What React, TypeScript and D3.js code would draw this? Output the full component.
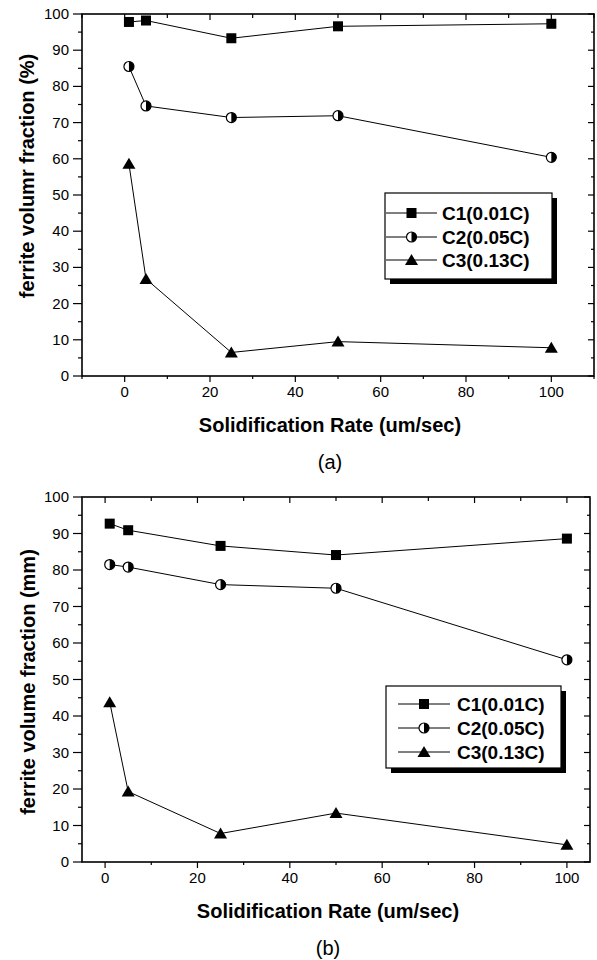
import React from 'react';
import * as d3 from 'd3';

const rates = [1, 5, 25, 50, 100];
const seriesNames = ['C1(0.01C)', 'C2(0.05C)', 'C3(0.13C)'];

// panel (a)
const aC1 = [97.8, 98.2, 93.3, 96.6, 97.3];
const aC2 = [85.5, 74.6, 71.4, 71.9, 60.4];
const aC3 = [58.6, 26.8, 6.5, 9.5, 7.8];

// panel (b)
const bC1 = [92.7, 90.9, 86.6, 84.1, 88.6];
const bC2 = [81.5, 80.8, 76.0, 75.0, 55.4];
const bC3 = [43.8, 19.3, 7.8, 13.4, 4.7];

const xTicks = [0, 20, 40, 60, 80, 100];
const yTicks = [0, 10, 20, 30, 40, 50, 60, 70, 80, 90, 100];

const FONT = '"Liberation Sans", Arial, Helvetica, sans-serif';

function Marker({ kind, x, y }: { kind: number; x: number; y: number }) {
  if (kind === 0) {
    return <rect x={x - 5} y={y - 5} width={10} height={10} fill="#000" />;
  }
  if (kind === 1) {
    const r = 5;
    return (
      <g>
        <circle cx={x} cy={y} r={r} fill="#fff" stroke="#000" strokeWidth={1.2} />
        <path d={`M${x},${y - r} A${r},${r} 0 0 1 ${x},${y + r} Z`} fill="#000" />
      </g>
    );
  }
  const s = 6;
  return <path d={`M${x},${y - s} L${x + s + 0.5},${y + s - 1} L${x - s - 0.5},${y + s - 1} Z`} fill="#000" />;
}

interface PanelProps {
  series: number[][];
  xDomain: [number, number];
  left: number;
  right: number;
  top: number;
  bottom: number;
  yTitle: string;
  yTitleY: number;
  yTitleX: number;
  caption: string;
  legend: { left: number; top: number; right: number; bottom: number; rows: number[]; lineX0: number; lineX1: number; textX: number };
}

function Panel(p: PanelProps) {
  const x = d3.scaleLinear().domain(p.xDomain).range([p.left, p.right]);
  const y = d3.scaleLinear().domain([0, 100]).range([p.bottom, p.top]);
  const line = d3.line<number>().x((_, i) => x(rates[i])).y(d => y(d));

  const xMinor = d3.range(-10, 111, 10).filter(v => v >= p.xDomain[0] && v <= p.xDomain[1]);
  const yMinor = d3.range(0, 101, 5);
  const midX = (p.left + p.right) / 2 - 8;
  const lg = p.legend;

  return (
    <g fontFamily={FONT}>
      {/* frame */}
      <rect x={p.left} y={p.top} width={p.right - p.left} height={p.bottom - p.top} fill="none" stroke="#000" strokeWidth={1.6} />

      {/* bottom ticks (outward) and top ticks (inward) */}
      {xMinor.map(v => {
        const major = v % 20 === 0;
        return (
          <g key={'xt' + v}>
            <line x1={x(v)} x2={x(v)} y1={p.bottom} y2={p.bottom + (major ? 6 : 3)} stroke="#000" strokeWidth={1.2} />
            <line x1={x(v)} x2={x(v)} y1={p.top} y2={p.top + (major ? 6 : 4)} stroke="#000" strokeWidth={1.2} />
          </g>
        );
      })}
      {xTicks.map(v => (
        <text key={'xl' + v} x={x(v)} y={p.bottom + 21} textAnchor="middle" fontSize={15} fill="#000">{v}</text>
      ))}

      {/* left ticks (outward) and right ticks (inward) */}
      {yMinor.map(v => {
        const major = v % 10 === 0;
        return (
          <g key={'yt' + v}>
            <line x1={p.left} x2={p.left - (major ? 9 : 4)} y1={y(v)} y2={y(v)} stroke="#000" strokeWidth={1.2} />
            <line x1={p.right} x2={p.right - (major ? 6 : 3)} y1={y(v)} y2={y(v)} stroke="#000" strokeWidth={1.2} />
          </g>
        );
      })}
      {yTicks.map(v => (
        <text key={'yl' + v} x={p.left - 13} y={y(v) + 5} textAnchor="end" fontSize={15} fill="#000">{v}</text>
      ))}

      {/* titles */}
      <text x={midX} y={p.bottom + 56} textAnchor="middle" fontSize={20} fontWeight="bold" fill="#000">Solidification Rate (um/sec)</text>
      <text transform={`translate(${p.yTitleX},${p.yTitleY}) rotate(-90)`} textAnchor="middle" fontSize={20} fontWeight="bold" fill="#000">{p.yTitle}</text>
      <text x={midX} y={p.bottom + 93} textAnchor="middle" fontSize={20} fill="#000">{p.caption}</text>

      {/* data */}
      {p.series.map((s, k) => (
        <g key={'s' + k}>
          <path d={line(s) || ''} fill="none" stroke="#000" strokeWidth={1} />
          {s.map((v, i) => <Marker key={i} kind={k} x={x(rates[i])} y={y(v)} />)}
        </g>
      ))}

      {/* legend */}
      <rect x={lg.left + 5} y={lg.top + 5} width={lg.right - lg.left} height={lg.bottom - lg.top} fill="#000" />
      <rect x={lg.left} y={lg.top} width={lg.right - lg.left} height={lg.bottom - lg.top} fill="#fff" stroke="#000" strokeWidth={1.2} />
      {seriesNames.map((n, k) => (
        <g key={'lg' + k}>
          <line x1={lg.lineX0} x2={lg.lineX1} y1={lg.rows[k]} y2={lg.rows[k]} stroke="#000" strokeWidth={1} />
          <Marker kind={k} x={(lg.lineX0 + lg.lineX1) / 2} y={lg.rows[k]} />
          <text x={lg.textX} y={lg.rows[k] + 7} fontSize={19} fontWeight="bold" fill="#000">{n}</text>
        </g>
      ))}
    </g>
  );
}

export default function App() {
  return (
    <svg width={597} height={960} style={{ position: 'absolute', left: 0, top: 0, background: '#fff' }}>
      <rect width={597} height={960} fill="#fff" />
      <Panel
        series={[aC1, aC2, aC3]}
        xDomain={[-10, 110]}
        left={82}
        right={594}
        top={14}
        bottom={376}
        yTitle="ferrite volumr fraction (%)"
        yTitleX={34}
        yTitleY={176}
        caption="(a)"
        legend={{ left: 385, top: 193, right: 552, bottom: 279, rows: [213, 237, 260], lineX0: 386, lineX1: 437, textX: 442 }}
      />
      <Panel
        series={[bC1, bC2, bC3]}
        xDomain={[-5, 105]}
        left={82}
        right={590}
        top={497}
        bottom={862}
        yTitle="ferrite volume fraction (mm)"
        yTitleX={35}
        yTitleY={682}
        caption="(b)"
        legend={{ left: 386, top: 686, right: 561, bottom: 768, rows: [704, 728, 752], lineX0: 398, lineX1: 450, textX: 457 }}
      />
    </svg>
  );
}
